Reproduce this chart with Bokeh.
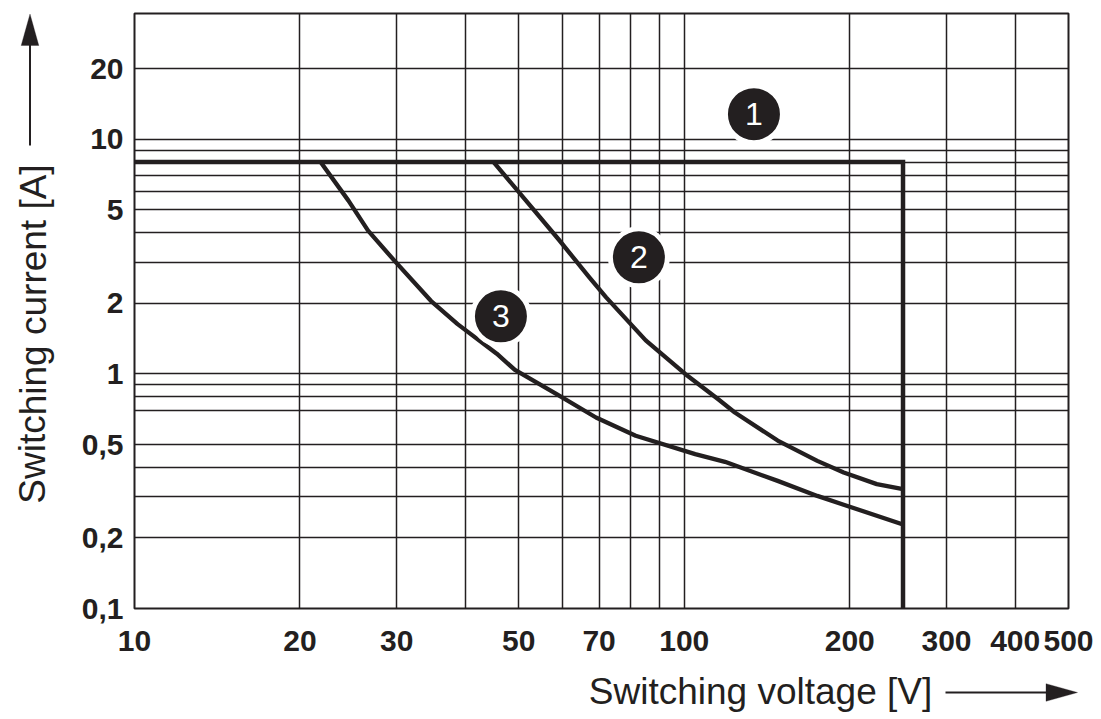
from bokeh.plotting import figure
from bokeh.layouts import row, column
from bokeh.models import FixedTicker, Label, Arrow, PolyAnnotation, Range1d, ColumnDataSource
from bokeh.core.properties import value
from bokeh.embed import file_html
from bokeh.resources import INLINE

# ---------------- data ----------------
x_ticks = [10, 20, 30, 50, 70, 100, 200, 300, 400, 500]
x_tick_labels = ["10", "20", "30", "50", "70", "100", "200", "300", "400", "500"]
y_ticks = [0.1, 0.2, 0.5, 1, 2, 5, 10, 20]
y_tick_labels = ["0,1", "0,2", "0,5", "1", "2", "5", "10", "20"]
x_grid = [20, 30, 40, 50, 60, 70, 80, 90, 100, 200, 300, 400]
y_grid = [0.2, 0.3, 0.4, 0.5, 0.7, 0.8, 0.9, 1, 2, 3, 4, 5, 6, 7, 8, 9, 10, 20]

# curve 1: rated current / max voltage envelope
v1 = [10, 250, 250]
a1 = [8, 8, 0.1]
# curve 2
v2 = [45.0, 59.0, 67.2, 72.1, 85.1, 100.4, 115.3, 123.6, 147.9, 174.6, 195, 224, 250]
a2 = [8.0, 3.76, 2.58, 2.12, 1.39, 1.0, 0.78, 0.685, 0.52, 0.426, 0.38, 0.339, 0.323]
# curve 3
v3 = [21.8, 24.5, 26.6, 29.7, 34.6, 38.7, 45.6, 49.2, 58.6, 69.1, 81.6, 104.7, 118.6, 147.9, 174.6, 195, 250]
a3 = [8.0, 5.48, 4.08, 3.04, 2.05, 1.63, 1.22, 1.04, 0.821, 0.652, 0.545, 0.455, 0.422, 0.350, 0.302, 0.277, 0.228]

# curve markers
marker_v = [133.9, 82.7, 46.4]
marker_a = [12.8, 3.14, 1.76]
marker_text = ["1", "2", "3"]

x_title = "Switching voltage [V]"
y_title = "Switching current [A]"

INK = "#231f20"
FONT = "Liberation Sans"

LEFT_W = 70
MAIN_W = 1028
MAIN_H = 668
BOTTOM_H = 50
TOTAL_W = LEFT_W + MAIN_W
TOP_B = 13
BOT_B = 60

# ---------------- main chart ----------------
p = figure(width=MAIN_W, height=MAIN_H,
           x_axis_type="log", y_axis_type="log",
           x_range=Range1d(10, 500), y_range=Range1d(0.1, 34.4),
           output_backend="svg", toolbar_location=None,
           min_border_left=64, min_border_right=30,
           min_border_top=TOP_B, min_border_bottom=BOT_B)

p.background_fill_color = "white"
p.border_fill_color = "white"
p.outline_line_color = INK
p.outline_line_width = 2

for ax in (p.xaxis, p.yaxis):
    ax.axis_line_color = None
    ax.major_tick_line_color = None
    ax.minor_tick_line_color = None
    ax.major_tick_out = 0
    ax.major_tick_in = 0
    ax.minor_tick_out = 0
    ax.minor_tick_in = 0
    ax.major_label_text_font = FONT
    ax.major_label_text_font_style = "bold"
    ax.major_label_text_font_size = "30px"
    ax.major_label_text_color = INK

p.xaxis.ticker = FixedTicker(ticks=x_ticks)
p.xaxis.major_label_overrides = {float(t): s for t, s in zip(x_ticks, x_tick_labels)}
p.xaxis.major_label_standoff = 22
p.yaxis.ticker = FixedTicker(ticks=y_ticks)
p.yaxis.major_label_overrides = {float(t): s for t, s in zip(y_ticks, y_tick_labels)}
p.yaxis.major_label_standoff = 11

p.xgrid.ticker = FixedTicker(ticks=x_grid)
p.ygrid.ticker = FixedTicker(ticks=y_grid)
for g in (p.xgrid, p.ygrid):
    g.grid_line_color = INK
    g.grid_line_width = 1.5
    g.minor_grid_line_color = None

p.line(v1, a1, line_color=INK, line_width=4.5, line_join="miter")
p.line(v2, a2, line_color=INK, line_width=4.3, line_join="round")
p.line(v3, a3, line_color=INK, line_width=4.3, line_join="round")

src = ColumnDataSource(dict(x=marker_v, y=marker_a, t=marker_text))
p.scatter("x", "y", source=src, size=57, fill_color=INK, line_color="white", line_width=5)
p.text("x", "y", text="t", source=src, text_color="white", text_align="center",
       text_baseline="middle", text_font=value(FONT), text_font_size="32px")


def blank(w, h, y_lo, y_hi):
    # pixel-like coordinates: y grows downward from y_lo (top) to y_hi (bottom)
    f = figure(width=w, height=h, x_range=Range1d(0, w), y_range=Range1d(y_hi, y_lo),
               output_backend="svg", toolbar_location=None,
               x_axis_location=None, y_axis_location=None,
               min_border_left=0, min_border_right=0, min_border_top=0, min_border_bottom=0)
    f.grid.visible = False
    f.outline_line_color = None
    f.background_fill_color = "white"
    f.border_fill_color = "white"
    return f


# ---------------- left strip: y title + upward arrow ----------------
# (its frame is aligned with the main frame by the row layout)
left = blank(LEFT_W, MAIN_H, TOP_B, MAIN_H - BOT_B)
left.add_layout(Label(x=32.5, y=333.5, text=y_title, angle=1.5707963,
                      text_align="center", text_baseline="middle",
                      text_font=FONT, text_font_size="37px", text_color=INK))
left.add_layout(Arrow(x_start=29.5, y_start=145, x_end=29.5, y_end=44, end=None,
                      line_color=INK, line_width=2))
left.add_layout(PolyAnnotation(xs=[20.7, 38.3, 29.5], ys=[45, 45, 13.5],
                               fill_color=INK, fill_alpha=1, line_color=INK, line_width=1))

# ---------------- bottom strip: x title + right arrow ----------------
bottom = blank(TOTAL_W, BOTTOM_H, MAIN_H, MAIN_H + BOTTOM_H)
bottom.add_layout(Label(x=760, y=691, text=x_title,
                        text_align="center", text_baseline="middle",
                        text_font=FONT, text_font_size="37px", text_color=INK))
bottom.add_layout(Arrow(x_start=945, y_start=692, x_end=1047, y_end=692, end=None,
                        line_color=INK, line_width=2))
bottom.add_layout(PolyAnnotation(xs=[1045.5, 1045.5, 1077], ys=[683.2, 700.8, 692],
                                 fill_color=INK, fill_alpha=1, line_color=INK, line_width=1))

layout = column(row(left, p, spacing=0), bottom, spacing=0)

open("out.html", "w").write(file_html(layout, INLINE))
